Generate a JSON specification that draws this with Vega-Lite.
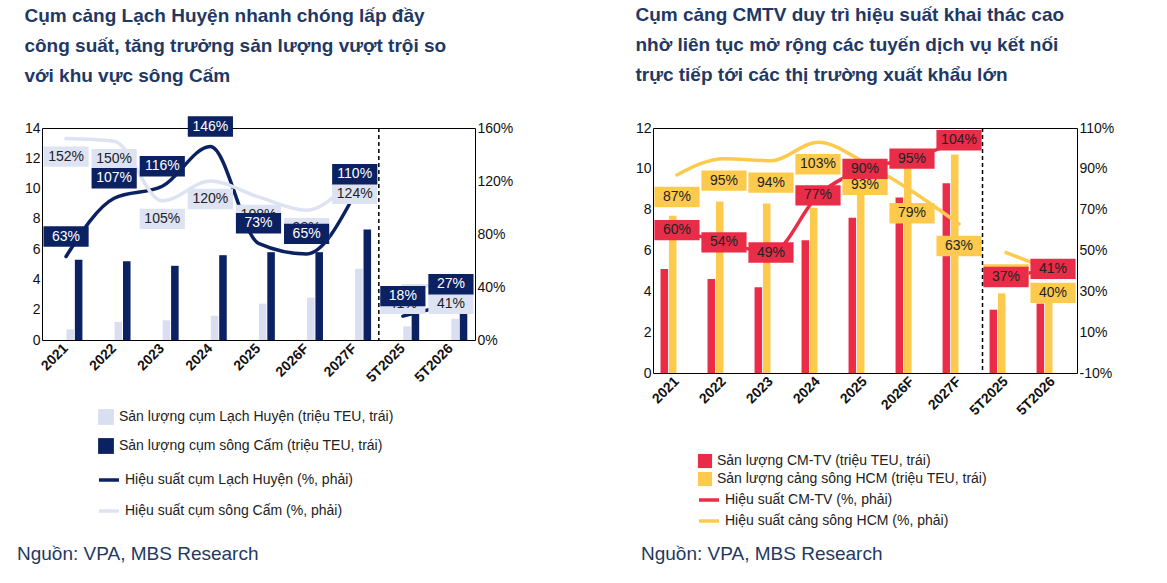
{
  "$schema": "https://vega.github.io/schema/vega-lite/v6.json",
  "background": "white",
  "padding": {"left": 17, "top": 5, "right": 5, "bottom": 5},
  "config": {
    "font": "Liberation Sans",
    "view": {"stroke": "black", "strokeWidth": 1},
    "axis": {"labelFontSize": 14, "labelColor": "#111", "ticks": false, "grid": false, "domain": false, "title": null},
    "legend": {"labelFontSize": 14, "labelColor": "#222", "orient": "none", "direction": "vertical", "title": null, "labelLimit": 400},
    "title": {"fontSize": 19, "fontWeight": "bold", "color": "#1f3864", "anchor": "start", "frame": "bounds", "lineHeight": 30}
  },
  "spacing": 0,
  "vconcat": [
    {
      "spacing": 120,
      "hconcat": [
        {
          "title": {"text": ["Cụm cảng Lạch Huyện nhanh chóng lấp đầy", "công suất, tăng trưởng sản lượng vượt trội so", "với khu vực sông Cấm"], "offset": 30},
          "width": 433,
          "height": 212,
          "data": {"values": [
            {"c": "2021", "bar_lh": 0.7, "bar_sc": 5.3, "p_lh": 63, "p_sc": 152, "g": "a"},
            {"c": "2022", "bar_lh": 1.2, "bar_sc": 5.2, "p_lh": 107, "p_sc": 150, "g": "a"},
            {"c": "2023", "bar_lh": 1.3, "bar_sc": 4.9, "p_lh": 116, "p_sc": 105, "g": "a"},
            {"c": "2024", "bar_lh": 1.6, "bar_sc": 5.6, "p_lh": 146, "p_sc": 120, "g": "a"},
            {"c": "2025", "bar_lh": 2.4, "bar_sc": 5.8, "p_lh": 73, "p_sc": 108, "g": "a"},
            {"c": "2026F", "bar_lh": 2.8, "bar_sc": 5.8, "p_lh": 65, "p_sc": 98, "g": "a"},
            {"c": "2027F", "bar_lh": 4.7, "bar_sc": 7.3, "p_lh": 110, "p_sc": 124, "g": "a"},
            {"c": "5T2025", "bar_lh": 0.9, "bar_sc": 2.2, "p_lh": 18, "p_sc": 41, "g": "b"},
            {"c": "5T2026", "bar_lh": 1.4, "bar_sc": 2.3, "p_lh": 27, "p_sc": 41, "g": "b"}
          ]},
          "transform": [
            {"calculate": "datum.p_lh + '%'", "as": "t_lh"},
            {"calculate": "datum.p_sc + '%'", "as": "t_sc"}
          ],
          "encoding": {
            "x": {"field": "c", "type": "nominal", "sort": null, "scale": {"paddingInner": 0.32, "paddingOuter": 0.16},
              "axis": {"labelAngle": -45, "labelFontWeight": "bold", "labelAlign": "right", "labelBaseline": "middle", "labelPadding": 6}}
          },
          "layer": [
            {
              "transform": [{"fold": ["bar_lh", "bar_sc"], "as": ["s", "v"]}],
              "mark": {"type": "bar"},
              "encoding": {
                "xOffset": {"field": "s", "type": "nominal", "scale": {"paddingInner": 0.1}},
                "y": {"field": "v", "type": "quantitative", "scale": {"domain": [0, 14]}, "axis": {"values": [0, 2, 4, 6, 8, 10, 12, 14]}},
                "fill": {"field": "s", "type": "nominal", "scale": {"domain": ["bar_lh", "bar_sc"], "range": ["#d9dff1", "#0b2161"]},
                  "legend": {"legendX": 55, "legendY": 280, "rowPadding": 12, "symbolType": "square", "symbolSize": 250, "labelExpr": "datum.value == 'bar_lh' ? 'Sản lượng cụm Lạch Huyện (triệu TEU, trái)' : 'Sản lượng cụm sông Cấm (triệu TEU, trái)'"}}
              }
            },
            {
              "layer": [
                {
                  "transform": [{"fold": ["p_lh", "p_sc"], "as": ["s", "v"]}],
                  "mark": {"type": "line", "interpolate": "monotone", "strokeWidth": 3.5, "strokeCap": "round"},
                  "encoding": {
                    "y": {"field": "v", "type": "quantitative", "scale": {"domain": [0, 160]}, "axis": {"orient": "right", "values": [0, 20, 40, 60, 80, 100, 120, 140, 160], "labelExpr": "datum.value + '%'"}},
                    "detail": {"field": "g"},
                    "stroke": {"field": "s", "type": "nominal", "scale": {"domain": ["p_lh", "p_sc"], "range": ["#0b2161", "#dde3f2"]},
                      "legend": {"legendX": 55, "legendY": 340, "rowPadding": 12, "symbolType": "stroke", "symbolStrokeWidth": 3.5, "symbolSize": 400, "labelExpr": "datum.value == 'p_lh' ? 'Hiệu suất cụm Lạch Huyện (%, phải)' : 'Hiệu suất cụm sông Cấm (%, phải)'"}}
                  }
                },
                {
                  "mark": {"type": "point", "shape": "M-1.55,-0.7H1.55V0.7H-1.55Z", "size": 850, "filled": true, "opacity": 1, "fill": "#dde3f2", "yOffset": 18},
                  "encoding": {"y": {"field": "p_sc", "type": "quantitative"}}
                },
                {
                  "mark": {"type": "text", "fontSize": 14, "color": "#222", "yOffset": 18},
                  "encoding": {"y": {"field": "p_sc", "type": "quantitative"}, "text": {"field": "t_sc"}}
                },
                {
                  "mark": {"type": "point", "shape": "M-1.55,-0.7H1.55V0.7H-1.55Z", "size": 850, "filled": true, "opacity": 1, "fill": "#0b2161", "yOffset": -20},
                  "encoding": {"y": {"field": "p_lh", "type": "quantitative"}}
                },
                {
                  "mark": {"type": "text", "fontSize": 14, "color": "white", "yOffset": -20},
                  "encoding": {"y": {"field": "p_lh", "type": "quantitative"}, "text": {"field": "t_lh"}}
                },
                {
                  "transform": [{"filter": "datum.c == '5T2025'"}],
                  "mark": {"type": "rule", "strokeDash": [4, 3], "strokeWidth": 1.5, "color": "black", "xOffset": -24},
                  "encoding": {}
                }
              ]
            }
          ],
          "resolve": {"scale": {"y": "independent", "fill": "independent", "stroke": "independent"}}
        },
        {
          "title": {"text": ["Cụm cảng CMTV duy trì hiệu suất khai thác cao", "nhờ liên tục mở rộng các tuyến dịch vụ kết nối", "trực tiếp tới các thị trường xuất khẩu lớn"], "offset": 36},
          "width": 424,
          "height": 245,
          "data": {"values": [
            {"c": "2021", "bar_cm": 5.1, "bar_hcm": 7.7, "p_cm": 60, "p_hcm": 87, "g": "a"},
            {"c": "2022", "bar_cm": 4.6, "bar_hcm": 8.4, "p_cm": 54, "p_hcm": 95, "g": "a"},
            {"c": "2023", "bar_cm": 4.2, "bar_hcm": 8.3, "p_cm": 49, "p_hcm": 94, "g": "a"},
            {"c": "2024", "bar_cm": 6.5, "bar_hcm": 8.1, "p_cm": 77, "p_hcm": 103, "g": "a"},
            {"c": "2025", "bar_cm": 7.6, "bar_hcm": 9.8, "p_cm": 90, "p_hcm": 93, "g": "a"},
            {"c": "2026F", "bar_cm": 8.6, "bar_hcm": 10.2, "p_cm": 95, "p_hcm": 79, "g": "a"},
            {"c": "2027F", "bar_cm": 9.3, "bar_hcm": 10.7, "p_cm": 104, "p_hcm": 63, "g": "a"},
            {"c": "5T2025", "bar_cm": 3.1, "bar_hcm": 3.9, "p_cm": 37, "p_hcm": 49, "g": "b"},
            {"c": "5T2026", "bar_cm": 3.4, "bar_hcm": 3.6, "p_cm": 41, "p_hcm": 40, "g": "b"}
          ]},
          "transform": [
            {"calculate": "datum.p_cm + '%'", "as": "t_cm"},
            {"calculate": "datum.p_hcm + '%'", "as": "t_hcm"}
          ],
          "encoding": {
            "x": {"field": "c", "type": "nominal", "sort": null, "scale": {"paddingInner": 0.3, "paddingOuter": 0.16},
              "axis": {"labelAngle": -45, "labelFontWeight": "bold", "labelAlign": "right", "labelBaseline": "middle", "labelPadding": 6}}
          },
          "layer": [
            {
              "transform": [{"fold": ["bar_cm", "bar_hcm"], "as": ["s", "v"]}],
              "mark": {"type": "bar"},
              "encoding": {
                "xOffset": {"field": "s", "type": "nominal", "scale": {"paddingInner": 0}},
                "y": {"field": "v", "type": "quantitative", "scale": {"domain": [0, 12]}, "axis": {"values": [0, 2, 4, 6, 8, 10, 12]}},
                "fill": {"field": "s", "type": "nominal", "scale": {"domain": ["bar_cm", "bar_hcm"], "range": ["#e92c48", "#fdca4e"]},
                  "legend": {"legendX": 44, "legendY": 325, "rowPadding": 2, "symbolType": "square", "symbolSize": 200, "labelExpr": "datum.value == 'bar_cm' ? 'Sản lượng CM-TV (triệu TEU, trái)' : 'Sản lượng cảng sông HCM (triệu TEU, trái)'"}}
              }
            },
            {
              "layer": [
                {
                  "transform": [{"fold": ["p_cm", "p_hcm"], "as": ["s", "v"]}],
                  "mark": {"type": "line", "interpolate": "monotone", "strokeWidth": 3.5, "strokeCap": "round"},
                  "encoding": {
                    "y": {"field": "v", "type": "quantitative", "scale": {"domain": [-10, 110]}, "axis": {"orient": "right", "values": [-10, 10, 30, 50, 70, 90, 110], "labelExpr": "datum.value + '%'"}},
                    "detail": {"field": "g"},
                    "stroke": {"field": "s", "type": "nominal", "scale": {"domain": ["p_cm", "p_hcm"], "range": ["#e92c48", "#fdca4e"]},
                      "legend": {"legendX": 44, "legendY": 360, "rowPadding": 2, "symbolType": "stroke", "symbolStrokeWidth": 3.5, "symbolSize": 400, "labelExpr": "datum.value == 'p_cm' ? 'Hiệu suất CM-TV (%, phải)' : 'Hiệu suất cảng sông HCM (%, phải)'"}}
                  }
                },
                {
                  "mark": {"type": "point", "shape": "M-1.55,-0.7H1.55V0.7H-1.55Z", "size": 850, "filled": true, "opacity": 1, "fill": "#fdca4e", "yOffset": 22},
                  "encoding": {"y": {"field": "p_hcm", "type": "quantitative"}}
                },
                {
                  "mark": {"type": "text", "fontSize": 14, "color": "#222", "yOffset": 22},
                  "encoding": {"y": {"field": "p_hcm", "type": "quantitative"}, "text": {"field": "t_hcm"}}
                },
                {
                  "mark": {"type": "point", "shape": "M-1.55,-0.7H1.55V0.7H-1.55Z", "size": 850, "filled": true, "opacity": 1, "fill": "#e92c48"},
                  "encoding": {"y": {"field": "p_cm", "type": "quantitative"}}
                },
                {
                  "mark": {"type": "text", "fontSize": 14, "color": "#222"},
                  "encoding": {"y": {"field": "p_cm", "type": "quantitative"}, "text": {"field": "t_cm"}}
                },
                {
                  "transform": [{"filter": "datum.c == '5T2025'"}],
                  "mark": {"type": "rule", "strokeDash": [4, 3], "strokeWidth": 1.5, "color": "black", "xOffset": -23.5},
                  "encoding": {}
                }
              ]
            }
          ],
          "resolve": {"scale": {"y": "independent", "fill": "independent", "stroke": "independent"}}
        }
      ]
    },
    {
      "width": 1100,
      "height": 20,
      "view": {"stroke": null},
      "data": {"values": [{"t": "Nguồn: VPA, MBS Research", "k": "a"}, {"t": "Nguồn: VPA, MBS Research", "k": "b"}]},
      "mark": {"type": "text", "align": "left", "fontSize": 19, "color": "#1f3864", "y": 25},
      "encoding": {
        "text": {"field": "t"},
        "x": {"field": "k", "type": "nominal", "scale": {"type": "point", "padding": 0, "domain": ["a", "b"], "range": [-25, 599]}, "axis": null}
      }
    }
  ]
}
